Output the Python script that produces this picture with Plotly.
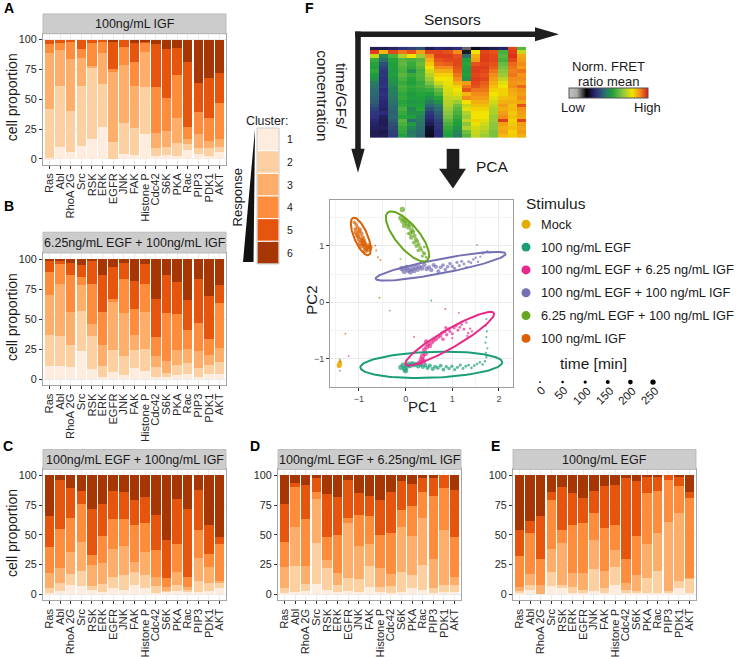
import numpy as np
import plotly.graph_objects as go

W, H = 738, 657
def fx(p): return p / W
def fy(p): return 1 - p / H

FONT = "Arial, Liberation Sans, sans-serif"

# ---------------- data ----------------
sensors = ["Ras", "Abl", "RhoA 2G", "Src", "RSK", "ERK", "EGFR", "JNK", "FAK",
           "Histone P", "Cdc42", "S6K", "PKA", "Rac", "PIP3", "PDK1", "AKT"]
clusters = ["1", "2", "3", "4", "5", "6"]
cluster_colors = ["#FEEDDE", "#FDD0A2", "#FDAE6B", "#FD8D3C", "#E6550D", "#A63603"]

# cumulative upper bound (%) of clusters 1..5 per sensor; cluster 6 fills to 100
igf100_cum = [[1,42,89,96,100],[10,61,91,97,100],[6,40,84,98,100],[11,61,85,92,100],
              [17,77,78,97,100],[27,63,89,98,100],[0,14,73,75,99],[4,30,79,94,100],
              [3,26,61,81,97],[21,60,90,97,99],[2,9,22,60,96],[3,10,23,51,92],
              [2,13,34,70,93],[7,12,17,27,81],[4,9,21,39,64],[2,9,15,34,68],[6,10,17,47,72]]
egf625_igf100_cum = [[11,37,70,89,98],[11,36,79,96,99],[10,28,56,87,97],[23,57,78,85,95],
                     [8,36,46,79,98],[2,11,28,56,87],[6,24,64,67,93],[3,19,55,83,97],
                     [9,24,37,58,82],[7,25,56,79,96],[2,10,19,35,67],[2,5,15,55,87],
                     [3,12,24,54,81],[4,13,25,41,66],[2,9,23,47,83],[4,12,20,33,69],[4,14,26,63,78]]
egf100_igf100_cum = [[1,5,18,40,66],[3,10,22,55,96],[8,17,36,64,89],[7,20,44,76,87],
                     [4,7,25,33,72],[2,9,26,49,76],[5,15,38,63,87],[4,16,41,63,86],
                     [8,19,27,58,79],[5,16,36,60,82],[1,7,15,37,67],[2,3,6,14,46],
                     [3,8,19,42,80],[2,4,6,15,72],[2,11,31,54,88],[3,10,23,34,58],[5,10,11,42,48]]
egf100_igf625_cum = [[1,5,23,44,76],[2,24,57,90,94],[3,9,24,63,92],[9,43,80,86,98],
                     [4,22,29,48,84],[2,8,18,50,82],[3,14,60,64,96],[2,13,41,67,85],
                     [6,24,42,66,83],[2,6,22,50,79],[1,7,17,52,86],[2,19,57,71,95],
                     [5,16,49,74,93],[4,25,64,86,98],[1,5,30,83,98],[2,8,54,89,100],[2,8,15,48,88]]
egf100_cum = [[1,3,6,32,54],[4,8,17,52,62],[0,0,8,30,66],[7,19,38,79,86],
              [5,8,43,54,90],[1,6,18,58,85],[1,4,18,60,81],[3,21,46,68,87],
              [1,5,20,56,91],[8,23,37,58,92],[1,4,10,30,98],[1,3,16,49,95],
              [1,14,42,85,99],[1,20,52,87,99],[1,3,61,96,100],[5,11,68,91,99],[1,13,14,81,86]]

# heatmap (Norm. FRET ratio mean): one list per sensor column, rows top->bottom
heat_cols = [
 [0.30,0.97,0.75,0.58,0.56,0.55,0.57,0.54,0.52,0.48,0.46,0.45,0.44,0.43,0.42,0.40,0.38,0.36,0.35,0.33,0.32,0.31,0.30,0.30],
 [0.30,0.85,0.50,0.45,0.40,0.38,0.36,0.36,0.35,0.35,0.36,0.34,0.35,0.34,0.33,0.33,0.32,0.34,0.31,0.30,0.30,0.31,0.29,0.30],
 [0.32,0.96,0.60,0.56,0.55,0.55,0.54,0.55,0.53,0.52,0.50,0.49,0.48,0.47,0.46,0.45,0.44,0.43,0.44,0.42,0.40,0.39,0.38,0.37],
 [0.35,0.92,0.72,0.62,0.63,0.61,0.60,0.62,0.60,0.58,0.60,0.59,0.57,0.58,0.56,0.57,0.60,0.58,0.56,0.62,0.60,0.58,0.57,0.55],
 [0.38,0.95,0.80,0.60,0.58,0.57,0.52,0.58,0.56,0.55,0.57,0.56,0.54,0.55,0.53,0.55,0.50,0.52,0.55,0.45,0.54,0.50,0.47,0.48],
 [0.40,0.88,0.70,0.62,0.64,0.62,0.60,0.61,0.60,0.58,0.59,0.57,0.56,0.55,0.54,0.55,0.56,0.52,0.50,0.48,0.46,0.45,0.44,0.43],
 [0.30,0.96,0.90,0.86,0.83,0.80,0.76,0.73,0.70,0.66,0.62,0.58,0.55,0.52,0.48,0.44,0.40,0.36,0.34,0.32,0.30,0.27,0.26,0.25],
 [0.33,0.96,0.97,0.95,0.93,0.90,0.86,0.82,0.80,0.76,0.70,0.64,0.60,0.56,0.52,0.48,0.45,0.42,0.40,0.38,0.36,0.35,0.34,0.34],
 [0.32,0.95,0.97,0.96,0.94,0.90,0.86,0.82,0.80,0.79,0.78,0.77,0.76,0.74,0.73,0.72,0.70,0.68,0.66,0.63,0.60,0.58,0.56,0.55],
 [0.34,0.90,0.95,0.96,0.96,0.95,0.94,0.92,0.90,0.86,0.82,0.80,0.78,0.75,0.70,0.65,0.62,0.60,0.58,0.56,0.55,0.52,0.50,0.48],
 [0.15,0.20,0.45,0.55,0.56,0.55,0.54,0.55,0.52,0.88,0.92,0.95,0.85,0.90,0.80,0.75,0.78,0.72,0.70,0.74,0.68,0.72,0.65,0.62],
 [0.25,0.80,0.86,0.88,0.95,0.97,0.97,0.96,0.97,0.96,0.95,0.92,0.90,0.88,0.86,0.84,0.82,0.80,0.80,0.82,0.79,0.76,0.75,0.74],
 [0.28,0.96,0.97,0.97,0.96,0.97,0.96,0.95,0.96,0.94,0.93,0.92,0.90,0.88,0.86,0.84,0.82,0.80,0.80,0.78,0.76,0.74,0.72,0.70],
 [0.30,0.95,0.96,0.96,0.95,0.94,0.92,0.90,0.88,0.86,0.84,0.82,0.80,0.78,0.76,0.74,0.72,0.72,0.70,0.70,0.68,0.68,0.66,0.66],
 [0.32,0.60,0.62,0.60,0.64,0.66,0.68,0.70,0.74,0.78,0.80,0.82,0.82,0.84,0.86,0.88,0.86,0.88,0.90,0.97,0.88,0.86,0.87,0.85],
 [0.96,0.97,0.98,0.96,0.93,0.92,0.91,0.92,0.90,0.89,0.90,0.87,0.86,0.85,0.86,0.84,0.85,0.83,0.84,0.82,0.83,0.84,0.82,0.83],
 [0.62,0.75,0.87,0.88,0.90,0.88,0.92,0.89,0.90,0.88,0.93,0.89,0.88,0.90,0.87,0.95,0.89,0.88,0.87,0.96,0.88,0.87,0.88,0.86],
]
fret_colorscale = [[0.0,"#C4C4C4"],[0.10,"#ABABAB"],[0.22,"#000000"],[0.34,"#2E2B7C"],
                   [0.45,"#2C6E70"],[0.55,"#1FA03C"],[0.68,"#8CC63F"],[0.80,"#F2E300"],
                   [0.90,"#F28C1A"],[1.0,"#D7191C"]]

# PCA scores (PC1, PC2, time [min]) per stimulus
stimuli = ["Mock", "100 ng/mL EGF", "100 ng/mL EGF + 6.25 ng/mL IGF",
           "100 ng/mL EGF + 100 ng/mL IGF", "6.25 ng/mL EGF + 100 ng/mL IGF", "100 ng/mL IGF"]
stim_colors = ["#E6AB02", "#1B9E77", "#E7298A", "#7570B3", "#66A61E", "#D95F02"]

mock_pc1 = [-1.42, -1.41, -1.43, -1.40]
mock_pc2 = [-1.12, -1.08, -1.14, -1.06]
mock_t = [250, 200, 150, 50]

egf_pc1 = [-0.10,-0.05,-0.02,0.00,0.03,0.06,0.10,0.14,0.18,0.22,0.27,0.32,0.37,0.42,0.47,0.52,0.58,0.63,0.69,0.75,
           0.81,0.87,0.93,0.99,1.05,1.11,1.17,1.23,1.29,1.35,1.41,1.47,1.53,1.59,1.65,1.70,1.73,1.72,1.75,1.71,
           1.73,1.74,1.72,1.73,0.55]
egf_pc2 = [-1.16,-1.12,-1.19,-1.22,-1.14,-1.10,-1.13,-1.09,-1.12,-1.10,-1.14,-1.11,-1.15,-1.12,-1.17,-1.13,-1.19,-1.15,-1.17,-1.13,
           -1.20,-1.15,-1.18,-1.14,-1.20,-1.16,-1.12,-1.18,-1.14,-1.12,-1.17,-1.13,-1.10,-1.07,-1.11,-1.05,-0.98,-0.90,-0.82,-0.72,
           -0.62,-0.52,-0.42,-0.30,0.03]
egf_t = [250,250,245,240,235,230,220,215,210,200,195,190,180,175,170,160,155,150,140,135,
         130,120,115,110,100,95,90,80,75,70,65,60,55,50,45,40,35,30,27,24,
         21,18,15,12,5]

egf_igf625_pc1 = [0.30,0.34,0.38,0.36,0.42,0.40,0.45,0.48,0.44,0.52,0.56,0.60,0.65,0.70,0.75,0.80,0.78,0.84,0.88,0.92,
                  0.86,0.95,1.00,1.04,1.08,1.12,1.16,1.20,1.25,1.30,1.34,1.38,1.42,1.32,1.00,0.85,1.14,0.18,-1.22]
egf_igf625_pc2 = [-1.08,-1.02,-1.05,-0.96,-0.92,-0.85,-0.80,-0.74,-0.70,-0.78,-0.72,-0.68,-0.66,-0.62,-0.60,-0.66,-0.55,-0.52,-0.58,-0.48,
                  -0.45,-0.52,-0.56,-0.46,-0.42,-0.50,-0.45,-0.40,-0.48,-0.36,-0.55,-0.47,-0.52,-0.60,-0.64,-0.12,-0.19,-0.62,-0.96]
egf_igf625_t = [250,245,240,235,225,215,205,195,190,180,170,160,150,140,130,125,120,115,110,100,
                95,90,85,80,75,70,65,60,55,50,45,40,35,30,25,10,10,10,5]

egf_igf100_pc1 = [-0.08,-0.03,0.02,0.06,0.10,0.14,0.18,0.22,0.26,0.30,0.35,0.40,0.45,0.50,0.55,0.60,0.65,0.70,0.75,0.80,
                  0.85,0.90,0.95,1.00,1.05,1.10,1.15,1.20,1.25,1.30,1.35,1.40,1.45,1.50,1.55,1.60,1.65,1.70,1.75,1.80,
                  1.53,-0.34,-1.41]
egf_igf100_pc2 = [0.60,0.55,0.62,0.57,0.54,0.60,0.56,0.62,0.58,0.63,0.60,0.66,0.59,0.62,0.57,0.66,0.63,0.55,0.62,0.66,
                  0.58,0.63,0.69,0.64,0.60,0.71,0.65,0.73,0.68,0.62,0.72,0.70,0.76,0.79,0.72,0.81,0.86,0.88,0.91,0.88,
                  1.02,-0.15,-1.22]
egf_igf100_t = [250,250,245,240,235,230,225,220,210,205,200,190,185,180,170,165,160,150,145,140,
                130,125,120,110,105,100,90,85,80,70,65,60,50,45,40,35,30,25,20,15,
                10,10,5]

egf625_igf100_pc1 = [-0.07,-0.10,-0.06,-0.01,0.03,-0.03,0.06,0.09,0.13,0.10,0.16,0.12,0.19,0.22,0.18,0.25,0.23,0.28,0.31,0.27,
                     0.34,0.38,0.36,0.41,0.44,0.40,0.05,0.15,-0.11,-0.56,-1.41]
egf625_igf100_pc2 = [1.65,1.50,1.44,1.46,1.40,1.36,1.33,1.38,1.28,1.22,1.25,1.15,1.18,1.12,1.06,1.08,1.00,1.03,0.97,0.92,
                     0.93,0.88,0.82,0.86,0.80,0.98,1.22,1.34,0.77,0.08,-1.02]
egf625_igf100_t = [250,240,235,230,225,220,210,205,200,190,185,180,170,165,160,150,145,140,130,125,
                   120,110,100,90,80,70,60,50,10,10,5]

igf_pc1 = [-1.10,-1.06,-1.08,-1.03,-1.00,-0.98,-1.04,-0.95,-0.92,-1.00,-0.97,-0.90,-0.94,-0.88,-0.85,
           -0.82,-0.86,-0.80,-0.76,-0.65,-0.63,-0.59,-0.54,-1.29,-1.40,-1.07,-1.02,-0.93,-0.89]
igf_pc2 = [1.42,1.38,1.30,1.33,1.26,1.29,1.20,1.22,1.15,1.12,1.05,1.09,1.00,1.02,0.97,
           1.00,0.92,0.94,0.98,1.01,0.92,0.80,0.75,-0.56,-1.05,1.24,1.17,1.10,1.05]
igf_t = [120,130,140,150,160,170,180,190,200,210,220,230,240,245,250,
         250,245,240,230,20,15,12,10,5,5,175,195,215,235]

# confidence ellipses: (stimulus index, centre PC1, centre PC2, semi-major, semi-minor, angle deg)
ellipses = [(1, 0.55, -1.115, 1.52, 0.23, 1.7),
            (2, 0.945, -0.65, 1.05, 0.17, 25.5),
            (3, 0.75, 0.64, 1.41, 0.13, 9.0),
            (4, 0.04, 1.17, 0.60, 0.23, -43.5),
            (5, -0.96, 1.17, 0.37, 0.14, -62.0)]

time_ticks = [0, 50, 100, 150, 200, 250]

# ---------------- figure ----------------
fig = go.Figure()
shapes, annotations = [], []
layout = dict(width=W, height=H, margin=dict(l=0, r=0, t=0, b=0), autosize=False,
              paper_bgcolor="white", plot_bgcolor="white", showlegend=False,
              barmode="stack", bargap=0.1,
              font=dict(family=FONT, color="#1A1A1A"))

def ann(text, x, y, size, angle=0, xanchor="center", yanchor="middle", bold=False, color="#1A1A1A"):
    annotations.append(dict(text=("<b>%s</b>" % text) if bold else text, x=fx(x), y=fy(y),
                            xref="paper", yref="paper", showarrow=False, textangle=angle,
                            xanchor=xanchor, yanchor=yanchor,
                            font=dict(size=size, family=FONT, color=color)))

def rect(x0, y0, x1, y1, fill, line="rgba(0,0,0,0)", lw=0):
    shapes.append(dict(type="rect", xref="paper", yref="paper", x0=fx(x0), x1=fx(x1),
                       y0=fy(y1), y1=fy(y0), fillcolor=fill, line=dict(color=line, width=lw)))

def poly(pts, fill):
    d = "M " + " L ".join("%f,%f" % (fx(a), fy(b)) for a, b in pts) + " Z"
    shapes.append(dict(type="path", xref="paper", yref="paper", path=d, fillcolor=fill,
                       line=dict(width=0)))

def circ(cx, cy, d, fill):
    shapes.append(dict(type="circle", xref="paper", yref="paper", x0=fx(cx - d / 2), x1=fx(cx + d / 2),
                       y0=fy(cy + d / 2), y1=fy(cy - d / 2), fillcolor=fill, line=dict(width=0)))

panels = [
    ("A", igf100_cum, "100ng/mL IGF", 43, 226, 14, 34, 166, True, (2, 8)),
    ("B", egf625_igf100_cum, "6.25ng/mL EGF + 100ng/mL IGF", 43, 226, 234, 255, 388, True, (2, 208)),
    ("C", egf100_igf100_cum, "100ng/mL EGF + 100ng/mL IGF", 43, 226, 453, 473, 605, True, (1, 449)),
    ("D", egf100_igf625_cum, "100ng/mL EGF + 6.25ng/mL IGF", 278, 461, 453, 473, 605, False, (248, 449)),
    ("E", egf100_cum, "100ng/mL EGF", 513, 696, 453, 473, 605, False, (489, 449)),
]

for i, (letter, cum, title, x0, x1, st, sb, pb, ytitle, lpos) in enumerate(panels):
    n = i + 1
    xr = "x" if n == 1 else "x%d" % n
    yr = "y" if n == 1 else "y%d" % n
    cum_arr = np.array(cum, dtype=float)
    full = np.hstack([np.zeros((len(sensors), 1)), cum_arr, np.full((len(sensors), 1), 100.0)])
    props = np.diff(full, axis=1)
    for k, cl in enumerate(clusters):
        fig.add_trace(go.Bar(x=sensors, y=props[:, k], name=cl, marker=dict(color=cluster_colors[k], line=dict(width=0)),
                             xaxis=xr, yaxis=yr, hoverinfo="skip"))
    layout["xaxis" if n == 1 else "xaxis%d" % n] = dict(
        domain=[fx(x0), fx(x1)], anchor=yr, range=[-0.6, 16.6], type="category",
        categoryorder="array", categoryarray=sensors, tickmode="array", tickvals=sensors,
        ticktext=sensors, tickangle=-90,
        ticks="outside", ticklen=3, tickcolor="#333333", tickwidth=1,
        tickfont=dict(size=11.2, color="#262626", family=FONT),
        showgrid=True, gridcolor="#EBEBEB", showline=True, linecolor="#A6A6A6", linewidth=1,
        mirror=True, fixedrange=True)
    layout["yaxis" if n == 1 else "yaxis%d" % n] = dict(
        domain=[fy(pb), fy(sb)], anchor=xr, range=[-5, 105], tickvals=[0, 25, 50, 75, 100],
        ticks="outside", ticklen=3, tickcolor="#333333", tickwidth=1,
        tickfont=dict(size=10.8, color="#262626", family=FONT),
        showgrid=True, gridcolor="#EBEBEB", showline=True, linecolor="#A6A6A6", linewidth=1,
        mirror=True, zeroline=False, fixedrange=True)
    rect(x0, st, x1, sb, "#CCCCCC", "#B3B3B3", 0.8)
    ann(title, (x0 + x1) / 2, (st + sb) / 2 + 0.5, 12.5)
    ann(letter, lpos[0], lpos[1], 14, xanchor="left", bold=True, color="#000000")
    if ytitle:
        ann("cell proportion", 12, (sb + pb) / 2 - 2, 14, angle=-90)

# ---- cluster legend ----
ann("Cluster:", 267, 122, 12.3)
bh = (266 - 129) / 6
for k, cl in enumerate(clusters):
    y0 = 129 + k * bh
    rect(257, y0, 279, y0 + bh, cluster_colors[k], "white", 1)
    ann(cl, 285, y0 + bh / 2, 10.5, xanchor="left")
rect(257, 129, 279, 266, "rgba(0,0,0,0)", "#BDBDBD", 0.8)
poly([(255, 130), (253.5, 264), (243, 264)], "#111111")
ann("Response", 237, 199, 13, angle=-90)

# ---- panel F: heatmap ----
z = [list(row) for row in zip(*heat_cols)]
fig.add_trace(go.Heatmap(z=z, x=sensors, xaxis="x6", yaxis="y6", colorscale=fret_colorscale,
                         zmin=0, zmax=1, hoverinfo="skip",
                         colorbar=dict(orientation="h", x=fx(608.5), xanchor="center", y=fy(89),
                                       yanchor="top", len=79, lenmode="pixels", thickness=10,
                                       thicknessmode="pixels", outlinecolor="#555555", outlinewidth=1,
                                       showticklabels=False, ticks="", xpad=0, ypad=0)))
layout["xaxis6"] = dict(domain=[fx(370), fx(526)], anchor="y6", showticklabels=False, showgrid=False,
                        zeroline=False, showline=False, ticks="", fixedrange=True)
layout["yaxis6"] = dict(domain=[fy(139), fy(47)], anchor="x6", showticklabels=False, showgrid=False,
                        zeroline=False, showline=False, ticks="", autorange="reversed", fixedrange=True)

ann("F", 303, 8, 14, xanchor="left", bold=True, color="#000000")
ann("Sensors", 453, 20, 15.5)
ann("time/GFs/<br>concentration", 332, 96, 15.2, angle=90)
ann("Norm. FRET", 608, 67, 13)
ann("ratio mean", 608, 82, 13)
ann("Low", 573, 108, 13)
ann("High", 647, 108, 13)
ann("PCA", 492, 168, 15.5)

# arrows
poly([(355.2, 31.8), (537, 31.8), (537, 37.2), (355.2, 37.2)], "#1E1E1E")
poly([(535, 27.5), (559, 34.5), (535, 41.5)], "#1E1E1E")
poly([(355.2, 31.8), (360.8, 31.8), (360.8, 152), (355.2, 152)], "#1E1E1E")
poly([(351.3, 150), (364.7, 150), (358, 174)], "#1E1E1E")
poly([(446.7, 150), (459.3, 150), (459.3, 171), (446.7, 171)], "#1E1E1E")
poly([(439, 170), (466, 170), (453, 190)], "#1E1E1E")

# ---- PCA scatter ----
def tsize(t):
    return [1.8 + 3.6 * v / 250 for v in t]

groups = [(mock_pc1, mock_pc2, mock_t), (egf_pc1, egf_pc2, egf_t),
          (egf_igf625_pc1, egf_igf625_pc2, egf_igf625_t), (egf_igf100_pc1, egf_igf100_pc2, egf_igf100_t),
          (egf625_igf100_pc1, egf625_igf100_pc2, egf625_igf100_t), (igf_pc1, igf_pc2, igf_t)]
for (gx, gy, gt), col, nm in zip(groups, stim_colors, stimuli):
    fig.add_trace(go.Scatter(x=gx, y=gy, mode="markers", name=nm, xaxis="x7", yaxis="y7",
                             marker=dict(color=col, size=tsize(gt), line=dict(width=0)), hoverinfo="skip"))

tt = np.linspace(0, 2 * np.pi, 120)
for si, cx, cy, a, b, ang in ellipses:
    th = np.deg2rad(ang)
    ex = cx + a * np.cos(tt) * np.cos(th) - b * np.sin(tt) * np.sin(th)
    ey = cy + a * np.cos(tt) * np.sin(th) + b * np.sin(tt) * np.cos(th)
    fig.add_trace(go.Scatter(x=ex, y=ey, mode="lines", xaxis="x7", yaxis="y7",
                             line=dict(color=stim_colors[si], width=2), hoverinfo="skip"))

layout["xaxis7"] = dict(domain=[fx(330), fx(513)], anchor="y7", range=[-1.62, 2.3],
                        tickvals=[-1, 0, 1, 2], ticks="outside", ticklen=3, tickcolor="#333333",
                        tickfont=dict(size=9, color="#4D4D4D", family=FONT),
                        showgrid=True, gridcolor="#EBEBEB", gridwidth=1,
                        minor=dict(dtick=0.5, tick0=0.5, showgrid=True, gridcolor="#F3F3F3", gridwidth=0.6),
                        zeroline=False, showline=True, linecolor="#9E9E9E", mirror=True, fixedrange=True)
layout["yaxis7"] = dict(domain=[fy(390), fy(202)], anchor="x7", range=[-1.51, 1.81],
                        tickvals=[-1, 0, 1], ticks="outside", ticklen=3, tickcolor="#333333",
                        tickfont=dict(size=9, color="#4D4D4D", family=FONT),
                        showgrid=True, gridcolor="#EBEBEB", gridwidth=1,
                        minor=dict(dtick=0.5, tick0=0.5, showgrid=True, gridcolor="#F3F3F3", gridwidth=0.6),
                        zeroline=False, showline=True, linecolor="#9E9E9E", mirror=True, fixedrange=True)
ann("PC1", 422, 410, 15)
ann("PC2", 312, 303, 15, angle=-90)

# stimulus legend
ann("Stimulus", 524, 205, 15.5, xanchor="left")
for k, (nm, col) in enumerate(zip(stimuli, stim_colors)):
    cy = 226 + k * 23
    circ(526, cy, 9, col)
    ann(nm, 539, cy, 12.8, xanchor="left")

# time legend
ann("time [min]", 593, 366, 15.5)
for k, tv in enumerate(time_ticks):
    cx = 540 + k * 22.6
    circ(cx, 385, tsize([tv])[0], "#000000")
    lab = str(tv)
    w = 6.3 * len(lab)
    ex, ey = cx + 3, 392
    ccx, ccy = ex - (w / 2) * 0.7071, ey + (w / 2) * 0.7071
    ann(lab, ccx, ccy, 11.5, angle=-45)

layout["shapes"] = shapes
layout["annotations"] = annotations
fig.update_layout(**layout)
fig.write_html("out.html", config={"displayModeBar": False},
               post_script="document.body.style.margin='0px';document.body.style.overflow='hidden';")
